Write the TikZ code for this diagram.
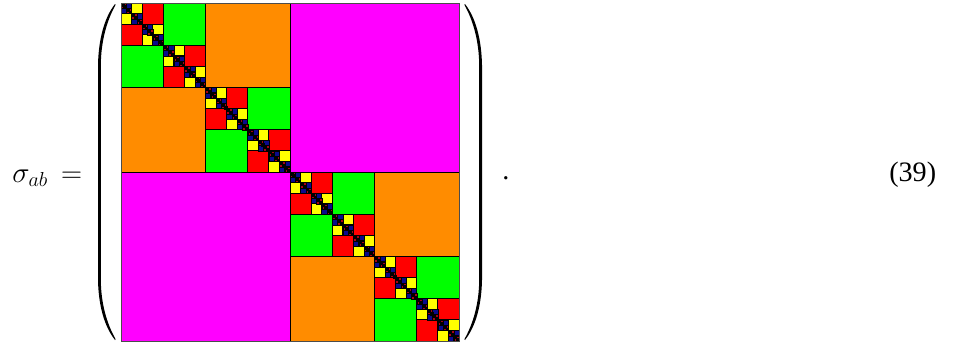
\documentclass[tikz,border=0pt]{standalone}
\usepackage{amsmath, amssymb}
\usepackage{fontspec}
\setmainfont{Liberation Serif}
\usepackage{tikz}
\usetikzlibrary{positioning, calc}
\usepackage{xcolor}
\definecolor{blockmagenta}{RGB}{255, 0, 255}
\definecolor{blockorange}{RGB}{255, 140, 0}
\definecolor{blockgreen}{RGB}{0, 255, 0}
\definecolor{blockred}{RGB}{255, 0, 0}
\definecolor{blockyellow}{RGB}{255, 255, 0}
\definecolor{blocknavy}{RGB}{10, 10, 140}
\definecolor{blockmaroon}{RGB}{170, 0, 20}
\definecolor{blockcyan}{RGB}{0, 255, 255}

\begin{document}
\begin{tikzpicture}[x=0.025cm, y=-0.025cm]
        \useasboundingbox (0,0) rectangle (973,343);
        \def\mx{121}
        \def\my{3}
        \def\len{338}
        % base of the matrix, then off-diagonal blocks level by level
        \fill[black] (\mx,\my) rectangle ++(\len,\len);
        \foreach \col [count=\k] in {blockmagenta, blockorange, blockgreen, blockred, blockyellow, blocknavy, blockmaroon, blockcyan}{
          \pgfmathsetmacro{\s}{\len/2^\k}
          \pgfmathtruncatemacro{\n}{2^(\k-1)-1}
          \pgfmathsetmacro{\lw}{min(0.6,\s*0.08)}
          \foreach \j in {0,...,\n}{
            \filldraw[fill=\col, draw=black, line width=\lw pt] (\mx+\j*2*\s+\s,\my+\j*2*\s) rectangle ++(\s,\s);
            \filldraw[fill=\col, draw=black, line width=\lw pt] (\mx+\j*2*\s,\my+\j*2*\s+\s) rectangle ++(\s,\s);
          }
        }
        \draw[black!70, line width=0.5pt] (\mx,\my) rectangle ++(\len,\len);
        % parentheses
        \fill[black] (115,4) .. controls (104,18) and (98.5,40) .. (98,65) -- (98,280)
          .. controls (98.5,305) and (104,326) .. (115,340)
          -- (115.6,339.2) .. controls (106.5,323) and (101,303) .. (100.8,280) -- (100.8,65)
          .. controls (101,42) and (106.5,21) .. (115.6,4.8) -- cycle;
        \fill[black] (465,4) .. controls (476,18) and (481.5,40) .. (482,65) -- (482,280)
          .. controls (481.5,305) and (476,326) .. (465,340)
          -- (464.4,339.2) .. controls (473.5,323) and (479,303) .. (479.2,280) -- (479.2,65)
          .. controls (479,42) and (473.5,21) .. (464.4,4.8) -- cycle;
        \node[font=\fontsize{22}{26}\selectfont, anchor=base west, inner sep=0pt] (lhs) at (12,182) {$\sigma_{ab}\,=$};
        \node[font=\fontsize{20}{24}\selectfont, anchor=base, inner sep=0pt] (dot) at (506,179) {.};
        \node[font=\fontsize{20}{24}\selectfont, anchor=base west, inner sep=0pt] (eqnum) at (889,181) {(39)};
      \end{tikzpicture}
\end{document}
